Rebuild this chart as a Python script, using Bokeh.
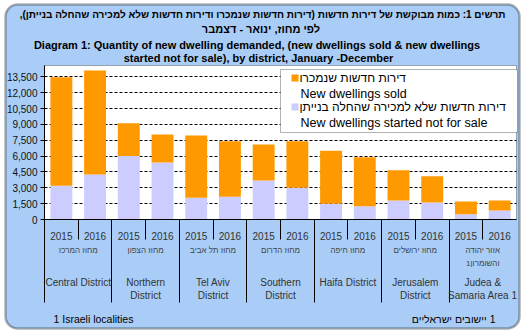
from bokeh.plotting import figure
from bokeh.models import (ColumnDataSource, Range1d, FixedTicker, LinearAxis,
                          NumeralTickFormatter, BoxAnnotation, Label)
from bokeh.embed import file_html
from bokeh.resources import INLINE

# ---------------- data ----------------
district_keys = ["Central", "Northern", "Tel Aviv", "Southern", "Haifa", "Jerusalem", "Judea"]
district_en = [["Central District"], ["Northern", "District"], ["Tel Aviv", "District"],
               ["Southern", "District"], ["Haifa District"], ["Jerusalem", "District"],
               ["Judea &", "Samaria Area 1"]]
district_he = [["מחוז המרכז"], ["מחוז הצפון"], ["מחוז תל אביב"], ["מחוז הדרום"],
               ["מחוז חיפה"], ["מחוז ירושלים"], ["אזור יהודה", "והשומרון1"]]
years = ["2015", "2016"]
# per district: 2015, 2016
not_for_sale = [3200, 4250, 6000, 5400, 2050, 2150, 3700, 3000, 1500, 1250, 1800, 1600, 500, 850]
sold = [10250, 9850, 3100, 2650, 5900, 5250, 3400, 4400, 5000, 4650, 2850, 2500, 1200, 950]
y_ticks = [0, 1500, 3000, 4500, 6000, 7500, 9000, 10500, 12000, 13500]

title_he = ["תרשים 1: כמות מבוקשת של דירות חדשות (דירות חדשות שנמכרו ודירות חדשות שלא למכירה שהחלה בנייתן),",
            "לפי  מחוז, ינואר - דצמבר"]
title_en = ["Diagram 1:  Quantity of new dwelling demanded, (new dwellings sold & new dwellings",
            "started not for sale), by district, January -December"]
legend_he = ["דירות חדשות שנמכרו", "דירות חדשות שלא למכירה שהחלה בנייתן"]
legend_en = ["New dwellings sold", "New dwellings started not for sale"]
note_en = "1 Israeli localities"
note_he = "1 יישובים ישראליים"

# ---------------- style / layout ----------------
W, H = 524, 334
BLUE = "#a9cdf6"
ORANGE = "#ff9900"
LAVENDER = "#ccccff"
FONT = "Liberation Sans"

PLOT_L, PLOT_R, PLOT_T, PLOT_B = 44, 516, 65, 219   # plot area in canvas pixels
TOP_TICK_PX = 76.3                                    # pixel row of the highest tick


def rtl(s):
    return "\u202b" + s + "\u202c"


n_cat = len(district_keys) * len(years)
xunit = (PLOT_R - PLOT_L) / n_cat
yunit = y_ticks[-1] / (PLOT_B - TOP_TICK_PX)
x_start, x_end = -PLOT_L / xunit, n_cat + (W - PLOT_R) / xunit
y_start, y_end = -(H - PLOT_B) * yunit, PLOT_B * yunit
y_top = (PLOT_B - PLOT_T) * yunit

xpos = [i + 0.5 for i in range(n_cat)]
year_labels = [years[i % len(years)] for i in range(n_cat)]
src = ColumnDataSource(dict(x=xpos, nfs=not_for_sale, sold=sold))

p = figure(width=W, height=H, x_range=Range1d(x_start, x_end), y_range=Range1d(y_start, y_end),
           output_backend="svg", toolbar_location=None,
           min_border=0, min_border_left=0, min_border_right=0, min_border_top=0,
           min_border_bottom=0)
p.border_fill_color = "white"
p.background_fill_color = "white"
p.outline_line_color = None

# outer rounded panel and white plot area
p.add_layout(BoxAnnotation(left=5, right=519, top=4, bottom=328, left_units="canvas",
                           right_units="canvas", top_units="canvas", bottom_units="canvas",
                           fill_color=BLUE, fill_alpha=1, line_color="black", line_width=2.5,
                           border_radius=12, level="image"))
p.add_layout(BoxAnnotation(left=0, right=n_cat, bottom=0, top=y_top,
                           fill_color="white", fill_alpha=1, line_color="black", line_width=1,
                           level="image"))

# grid
g = p.ygrid[0]
g.ticker = FixedTicker(ticks=y_ticks[1:])
g.grid_line_color = "black"
g.grid_line_dash = "3 2"
g.grid_line_width = 1
if "cross_bounds" in g.properties():
    g.cross_bounds = (0, n_cat)
    g.bounds = (0, y_top)
else:
    g.grid_line_color = None
    p.segment(x0=[0] * (len(y_ticks) - 1), x1=[n_cat] * (len(y_ticks) - 1), y0=y_ticks[1:],
              y1=y_ticks[1:], line_color="black", line_dash="3 2", line_width=1, level="underlay")
p.xgrid.grid_line_color = None

p.vbar_stack(["nfs", "sold"], x="x", width=0.65, fill_color=[LAVENDER, ORANGE],
             line_color=None, source=src)

# y axis
yax = p.yaxis[0]
yax.fixed_location = 0
yax.bounds = (0, y_top)
yax.ticker = FixedTicker(ticks=y_ticks)
yax.formatter = NumeralTickFormatter(format="0,0")
yax.major_tick_out = 4
yax.major_tick_in = 0
yax.minor_tick_line_color = None
yax.major_label_standoff = 3
yax.major_label_text_font = FONT
yax.major_label_text_font_size = "10px"
yax.major_label_text_color = "#111111"
yax.axis_line_color = "black"
yax.major_tick_line_color = "black"

# x axis: year labels
xax = p.xaxis[0]
xax.fixed_location = 0
xax.bounds = (0, n_cat)
xax.ticker = FixedTicker(ticks=xpos)
overrides = {}
for xv, lab in zip(xpos, year_labels):
    overrides[xv] = lab
    overrides[str(xv)] = lab
xax.major_label_overrides = overrides
xax.major_tick_line_color = None
xax.minor_tick_line_color = None
xax.axis_line_color = "black"
xax.major_label_text_font = FONT
xax.major_label_text_font_size = "10px"
xax.major_label_text_color = "#333333"
xax.major_label_standoff = 6

# x axis: category separators as tick marks
sep = LinearAxis(fixed_location=0, bounds=(0, n_cat),
                 ticker=FixedTicker(ticks=list(range(0, n_cat, 2)),
                                    minor_ticks=list(range(1, n_cat, 2))),
                 major_tick_out=83, major_tick_in=0, minor_tick_out=20, minor_tick_in=0,
                 major_tick_line_color="black", minor_tick_line_color="black",
                 axis_line_color=None, major_label_text_color=None,
                 major_label_text_font_size="0px")
p.add_layout(sep, "below")

# district labels
for j in range(len(district_keys)):
    cx = len(years) * j + len(years) / 2
    for k, t in enumerate(district_he[j]):
        p.add_layout(Label(x=cx, y=250 + 13 * k, x_units="data", y_units="canvas", text=rtl(t),
                           text_align="center", text_baseline="middle", text_font=FONT,
                           text_font_size="8px", text_color="#444444"))
    for k, t in enumerate(district_en[j]):
        p.add_layout(Label(x=cx, y=282 + 13 * k, x_units="data", y_units="canvas", text=t,
                           text_align="center", text_baseline="middle", text_font=FONT,
                           text_font_size="10px", text_color="#333333"))

# titles
title_sizes = ["10px", "11px"]
for k, t in enumerate(title_he):
    p.add_layout(Label(x=262, y=14 + 14 * k, x_units="canvas", y_units="canvas", text=rtl(t),
                       text_align="center", text_baseline="middle", text_font=FONT,
                       text_font_size=title_sizes[k], text_font_style="bold", text_color="black"))
for k, t in enumerate(title_en):
    p.add_layout(Label(x=258, y=44 + 13 * k, x_units="canvas", y_units="canvas", text=t,
                       text_align="center", text_baseline="middle", text_font=FONT,
                       text_font_size="11px", text_font_style="bold", text_color="black"))

# legend
p.add_layout(BoxAnnotation(left=280, right=517, top=69, bottom=132, left_units="canvas",
                           right_units="canvas", top_units="canvas", bottom_units="canvas",
                           fill_color="white", fill_alpha=1, line_color="black", line_width=1))
for k, col in enumerate([ORANGE, LAVENDER]):
    top = 74 + 29 * k
    p.add_layout(BoxAnnotation(left=291, right=298, top=top, bottom=top + 7, left_units="canvas",
                               right_units="canvas", top_units="canvas", bottom_units="canvas",
                               fill_color=col, fill_alpha=1, line_color=None))
    p.add_layout(Label(x=299, y=top + 3, x_units="canvas", y_units="canvas", text=rtl(legend_he[k]),
                       text_align="left", text_baseline="middle", text_font=FONT,
                       text_font_size="12px", text_color="black"))
    p.add_layout(Label(x=300, y=top + 19, x_units="canvas", y_units="canvas", text=legend_en[k],
                       text_align="left", text_baseline="middle", text_font=FONT,
                       text_font_size="12.5px", text_color="black"))

# footnotes
p.add_layout(Label(x=53, y=318, x_units="canvas", y_units="canvas", text=note_en,
                   text_align="left", text_baseline="middle", text_font=FONT,
                   text_font_size="10.5px", text_color="black"))
p.add_layout(Label(x=495, y=318, x_units="canvas", y_units="canvas", text=rtl(note_he),
                   text_align="right", text_baseline="middle", text_font=FONT,
                   text_font_size="10.5px", text_color="black"))

open("out.html", "w").write(file_html(p, INLINE))
